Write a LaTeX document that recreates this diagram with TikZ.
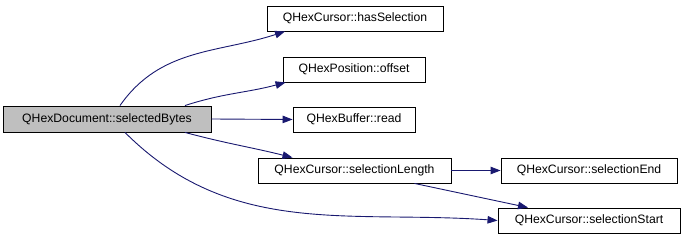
\documentclass[tikz,border=0pt]{standalone}
\usepackage{fontspec}
\setmainfont{Liberation Sans}
\usetikzlibrary{arrows.meta}
\definecolor{EdgeBlue}{HTML}{191970}
\definecolor{RootGray}{HTML}{BFBFBF}

\begin{document}
\begin{tikzpicture}[x=1pt,y=1pt,every node/.style={font=\fontsize{12.2}{14}\selectfont,align=center,inner sep=0pt},
  fn/.style={draw,line width=0.9pt,minimum height=25pt},
  call/.style={draw=EdgeBlue,line width=0.9pt,-{Triangle[length=10pt,width=7.5pt]},fill=none}]
  \useasboundingbox (0,0) rectangle (685,240);
  \node[fn,fill=RootGray,minimum width=208pt,minimum height=26pt] (main) at (107,121) {QHexDocument::selectedBytes};
  \node[fn,minimum width=176pt] (has) at (355,221.5) {QHexCursor::hasSelection};
  \node[fn,minimum width=142pt] (offset) at (354,170.5) {QHexPosition::offset};
  \node[fn,minimum width=122pt] (read) at (354,120.5) {QHexBuffer::read};
  \node[fn,minimum width=193pt] (len) at (354.5,69.5) {QHexCursor::selectionLength};
  \node[fn,minimum width=176pt] (end) at (589,69.5) {QHexCursor::selectionEnd};
  \node[fn,minimum width=182pt] (start) at (589,19.5) {QHexCursor::selectionStart};
  \draw[call] ([xshift=13pt]main.north) to[out=55,in=198] ([xshift=-70pt]has.south);
  \draw[call] ([xshift=78pt]main.north) to[out=18,in=195] ([xshift=3pt]offset.south west);
  \draw[call] (main.east) -- (read.west);
  \draw[call] ([xshift=78pt]main.south) to[out=-15,in=166] ([xshift=-62pt]len.north);
  \draw[call] ([xshift=18pt]main.south) to[out=-45,in=176] (start.west);
  \draw[call] (len.east) -- (end.west);
  \draw[call] ([xshift=60pt]len.south) -- ([xshift=-61pt]start.north);
\end{tikzpicture}
\end{document}
